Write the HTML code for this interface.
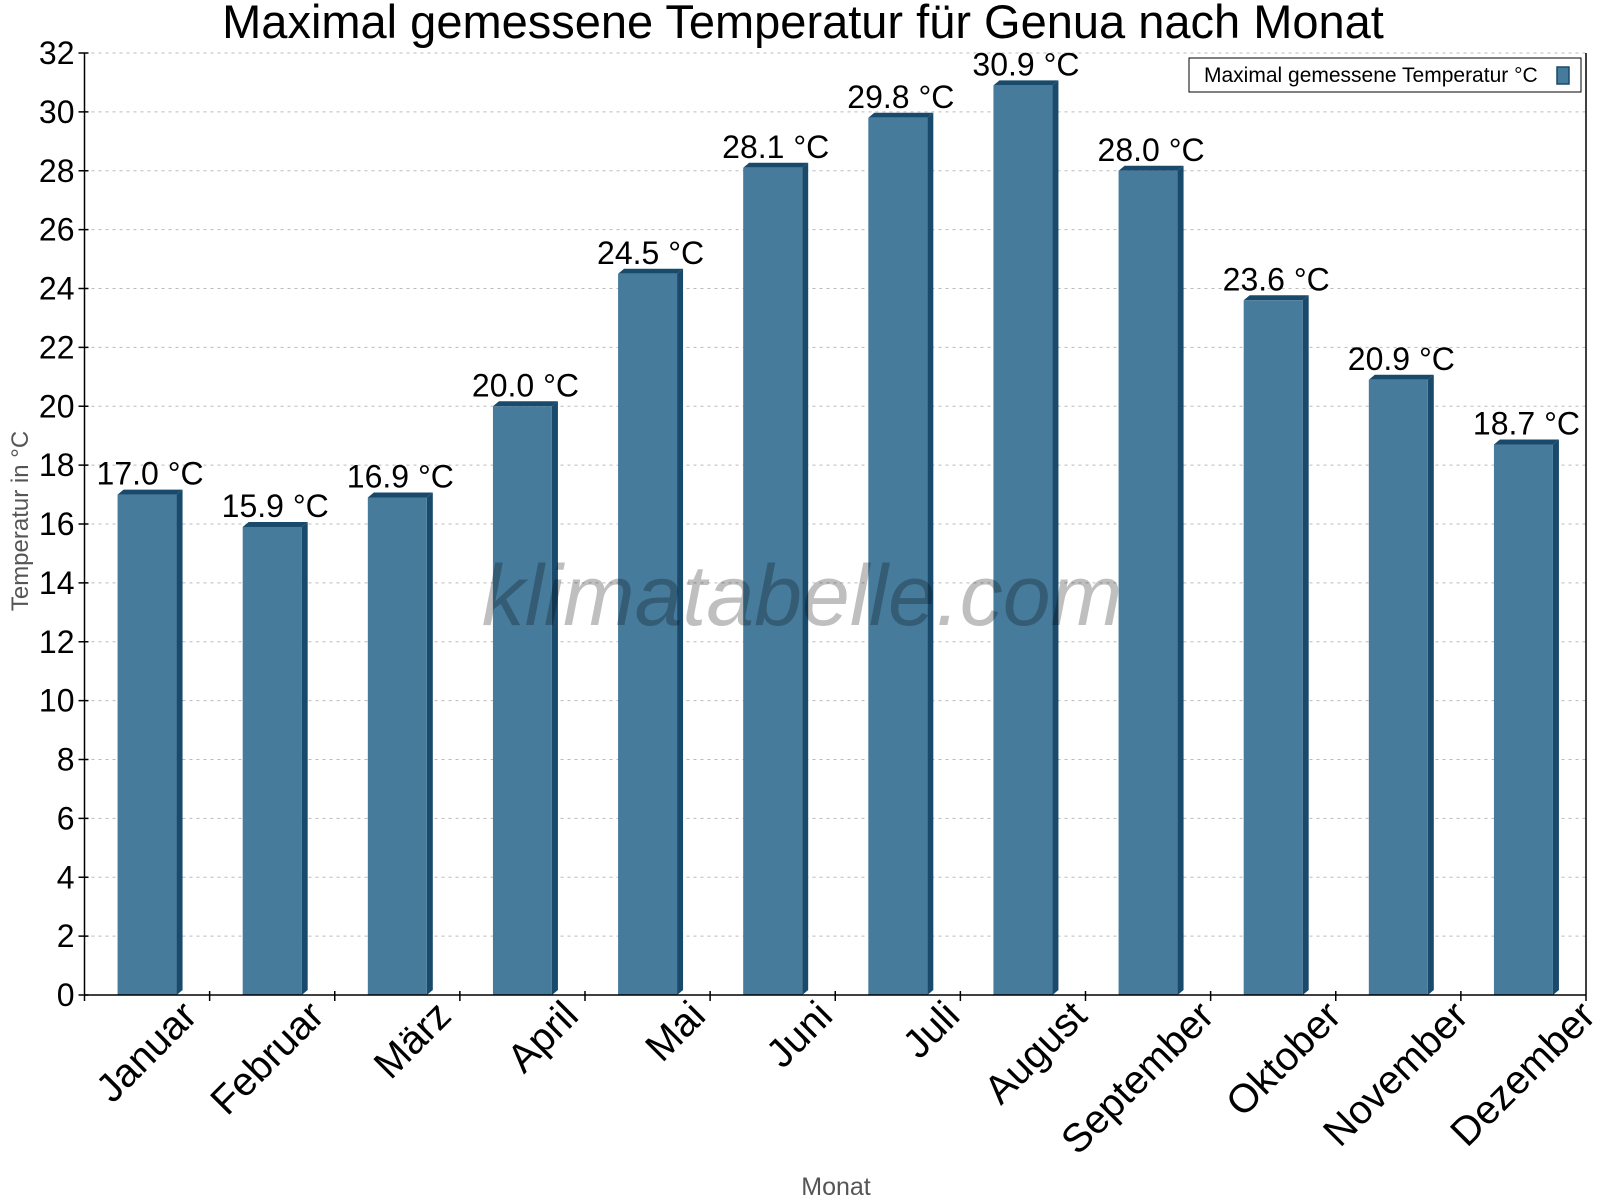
<!DOCTYPE html>
<html><head><meta charset="utf-8"><style>
html,body{margin:0;padding:0;background:#fff;}
svg{display:block;font-family:"Liberation Sans",Arial,sans-serif;}
</style></head><body>
<svg id="chart" width="1600" height="1200" viewBox="0 0 1600 1200" xmlns="http://www.w3.org/2000/svg">
<rect width="1600" height="1200" fill="#fff"/>
<text x="803" y="38" font-size="47" text-anchor="middle" fill="#000">Maximal gemessene Temperatur für Genua nach Monat</text>
<g id="grid"></g>
<g id="bars"></g>
<text x="802" y="625" font-size="86" font-style="italic" text-anchor="middle" fill="#000" fill-opacity="0.25">klimatabelle.com</text>
<g id="axes"></g>
<text transform="translate(28,521) rotate(-90)" font-size="24" text-anchor="middle" fill="#555">Temperatur in °C</text>
<text x="836" y="1195" font-size="25" text-anchor="middle" fill="#555">Monat</text>
<g>
<rect x="1189" y="58" width="392" height="34" fill="#fff" stroke="#000" stroke-width="1"/>
<text x="1204" y="82" font-size="21" fill="#000">Maximal gemessene Temperatur °C</text>
<rect x="1557" y="67" width="12" height="17" fill="#467b9c" stroke="#1a4a6b" stroke-width="1.5"/>
</g>
</svg>
<script>
const categories = ["Januar","Februar","März","April","Mai","Juni","Juli","August","September","Oktober","November","Dezember"];
const values = [17.0,15.9,16.9,20.0,24.5,28.1,29.8,30.9,28.0,23.6,20.9,18.7];
const yTicks = [0,2,4,6,8,10,12,14,16,18,20,22,24,26,28,30,32];

const NS = "http://www.w3.org/2000/svg";
const X0 = 84.5, X1 = 1586, Y0 = 995, Y1 = 53, YMAX = 32;
const band = (X1 - X0) / categories.length;
function y(v){ return Y0 - (v / YMAX) * (Y0 - Y1); }
function xc(i){ return X0 + band * (i + 0.5); }
function mk(tag, attrs, parent){ const e = document.createElementNS(NS, tag); for (const k in attrs) e.setAttribute(k, attrs[k]); parent.appendChild(e); return e; }

const grid = document.getElementById('grid');
const axes = document.getElementById('axes');
const bars = document.getElementById('bars');

yTicks.forEach(t => {
  if (t > 0) {
    const g = mk('line', {x1: X0, x2: X1, y1: y(t), y2: y(t), stroke: '#bbb', 'stroke-dasharray': '3,4', 'stroke-width': 1}, grid);
    
    
  }
  const tk = mk('line', {x1: X0 - 6, x2: X0 + 4, y1: y(t), y2: y(t), stroke: '#000', 'stroke-width': 1.5}, axes);
  
  
  const lb = mk('text', {x: X0 - 10, y: y(t) + 11, 'font-size': 32, 'text-anchor': 'end', fill: '#000'}, axes);
  lb.textContent = t;
  
  
});

const ya = mk('line', {x1: X0, x2: X0, y1: Y1, y2: Y0 + 6, stroke: '#000', 'stroke-width': 1.5}, axes);


const ya2 = mk('line', {x1: X1, x2: X1, y1: Y1, y2: Y0 + 6, stroke: '#000', 'stroke-width': 1.5}, axes);


const xa = mk('line', {x1: X0, x2: X1, y1: Y0, y2: Y0, stroke: '#000', 'stroke-width': 1.5}, axes);



for (let i = 1; i < categories.length; i++) {
  const xt = X0 + band * i;
  const t = mk('line', {x1: xt, x2: xt, y1: Y0 - 4, y2: Y0 + 6, stroke: '#000', 'stroke-width': 1.5}, axes);
  
  
}

const BW = 59, D = 6, DT = 5;
categories.forEach((c, i) => {
  const cx = xc(i), x = cx - BW / 2, top = y(values[i]);
  const g = mk('g', {}, bars);
  
  
  mk('polygon', {points: `${x+BW},${top} ${x+BW+D},${top-DT} ${x+BW+D},${Y0-DT} ${x+BW},${Y0}`, fill: '#1a4a6b'}, g);
  mk('polygon', {points: `${x},${top} ${x+D},${top-DT} ${x+BW+D},${top-DT} ${x+BW},${top}`, fill: '#1a4a6b'}, g);
  mk('rect', {x: x, y: top, width: BW, height: Y0 - top, fill: '#467b9c'}, g);
  const v = mk('text', {x: x + (BW + D) / 2, y: top - 10, 'font-size': 32, 'text-anchor': 'middle', fill: '#000'}, axes);
  v.textContent = values[i].toFixed(1) + ' °C';
  
  
  const lx = cx + 52 + 2 * i, ly = 1018;
  const l = mk('text', {x: lx, y: ly, 'font-size': 40, 'text-anchor': 'end', fill: '#000', transform: `rotate(-45 ${lx} ${ly})`}, axes);
  l.textContent = c;
  
  
});
</script>
</body></html>
